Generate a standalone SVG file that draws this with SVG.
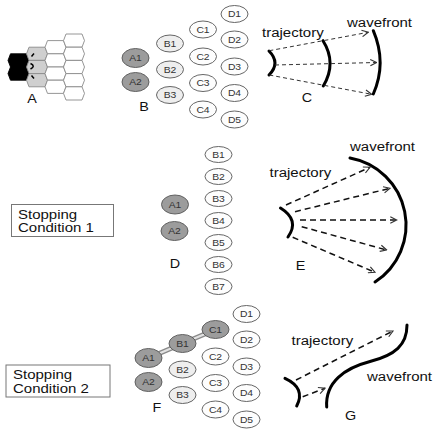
<svg xmlns="http://www.w3.org/2000/svg" width="436" height="436" viewBox="0 0 436 436">
<defs>
<style>
text{font-family:"Liberation Sans",Arial,sans-serif;fill:#111}
.hex{stroke:#8a8a8a;stroke-width:0.9;fill:#fff}
.hg{fill:#cfcfcf}
.hb{fill:#000;stroke:#000}
.n ellipse{stroke:#555;stroke-width:0.9}
.ga{fill:#9c9c9c}
.gb{fill:#eeeeee}
.gw{fill:#fdfdfd}
.nl{font-size:9px;text-anchor:middle;fill:#333}
.big{font-size:12px}
.let{font-size:12.5px;text-anchor:middle}
.wave{fill:none;stroke:#000;stroke-width:3;stroke-linecap:round}
.dash{fill:none;stroke:#333;stroke-width:1;stroke-dasharray:4 3}
.dash2{fill:none;stroke:#111;stroke-width:1.5;stroke-dasharray:6 4}
.box{fill:#fff;stroke:#777;stroke-width:1}
.tube{stroke:#8a8a8a;stroke-width:5}
.tubein{stroke:#e2e2e2;stroke-width:2.2}
</style>
<marker id="ah" viewBox="0 0 10 10" refX="9" refY="5" markerWidth="8" markerHeight="8" markerUnits="userSpaceOnUse" orient="auto"><path d="M1,1 L9,5 L1,9" fill="none" stroke="#333" stroke-width="1.4"/></marker>
</defs>
<rect width="436" height="436" fill="#fff"/>

<!-- Panel A: hex grid -->
<g id="panelA">
<polygon class="hex hb" points="8,60.4 10.5,53.8 26.5,53.8 29,60.4 26.5,67 10.5,67"/>
<polygon class="hex hb" points="8,73.6 10.5,67 26.5,67 29,73.6 26.5,80.2 10.5,80.2"/>
<polygon class="hex hg" points="26.5,53.8 29,47.2 45,47.2 47.5,53.8 45,60.4 29,60.4"/>
<polygon class="hex hg" points="26.5,67 29,60.4 45,60.4 47.5,67 45,73.6 29,73.6"/>
<polygon class="hex hg" points="26.5,80.2 29,73.6 45,73.6 47.5,80.2 45,86.8 29,86.8"/>
<polygon class="hex" points="45,47.2 47.5,40.6 63.5,40.6 66,47.2 63.5,53.8 47.5,53.8"/>
<polygon class="hex" points="45,60.4 47.5,53.8 63.5,53.8 66,60.4 63.5,67 47.5,67"/>
<polygon class="hex" points="45,73.6 47.5,67 63.5,67 66,73.6 63.5,80.2 47.5,80.2"/>
<polygon class="hex" points="45,86.8 47.5,80.2 63.5,80.2 66,86.8 63.5,93.4 47.5,93.4"/>
<polygon class="hex" points="63.5,40.6 66,34 82,34 84.5,40.6 82,47.2 66,47.2"/>
<polygon class="hex" points="63.5,53.8 66,47.2 82,47.2 84.5,53.8 82,60.4 66,60.4"/>
<polygon class="hex" points="63.5,67 66,60.4 82,60.4 84.5,67 82,73.6 66,73.6"/>
<polygon class="hex" points="63.5,80.2 66,73.6 82,73.6 84.5,80.2 82,86.8 66,86.8"/>
<polygon class="hex" points="63.5,93.4 66,86.8 82,86.8 84.5,93.4 82,100 66,100"/>
<path d="M31.5,56.5 L34,53.5 M30.5,63.5 Q36,66 30.5,69 M31.5,75.5 L34,78.5" fill="none" stroke="#000" stroke-width="1.5"/>
<text class="let" transform="translate(32,103) scale(1.15,1)">A</text>
</g>

<!-- Panel B -->
<g id="B-A1" class="n"><ellipse class="ga" cx="135.5" cy="58" rx="13.5" ry="9.5"/><text class="nl" transform="translate(135.5,61.2) scale(1.15,1)">A1</text></g>
<g id="B-A2" class="n"><ellipse class="ga" cx="135.5" cy="82" rx="13.5" ry="9.5"/><text class="nl" transform="translate(135.5,85.2) scale(1.15,1)">A2</text></g>
<g id="B-B1" class="n"><ellipse class="gb" cx="170" cy="43.5" rx="13.5" ry="8.5"/><text class="nl" transform="translate(170,46.7) scale(1.15,1)">B1</text></g>
<g id="B-B2" class="n"><ellipse class="gb" cx="170" cy="69.5" rx="13.5" ry="8.5"/><text class="nl" transform="translate(170,72.7) scale(1.15,1)">B2</text></g>
<g id="B-B3" class="n"><ellipse class="gb" cx="170" cy="95" rx="13.5" ry="8.5"/><text class="nl" transform="translate(170,98.2) scale(1.15,1)">B3</text></g>
<g id="B-C1" class="n"><ellipse class="gw" cx="203" cy="29.5" rx="13.5" ry="8.5"/><text class="nl" transform="translate(203,32.7) scale(1.15,1)">C1</text></g>
<g id="B-C2" class="n"><ellipse class="gw" cx="203" cy="56.5" rx="13.5" ry="8.5"/><text class="nl" transform="translate(203,59.7) scale(1.15,1)">C2</text></g>
<g id="B-C3" class="n"><ellipse class="gw" cx="203" cy="83" rx="13.5" ry="8.5"/><text class="nl" transform="translate(203,86.2) scale(1.15,1)">C3</text></g>
<g id="B-C4" class="n"><ellipse class="gw" cx="203" cy="109.5" rx="13.5" ry="8.5"/><text class="nl" transform="translate(203,112.7) scale(1.15,1)">C4</text></g>
<g id="B-D1" class="n"><ellipse class="gw" cx="234.5" cy="14" rx="13.5" ry="8.5"/><text class="nl" transform="translate(234.5,17.2) scale(1.15,1)">D1</text></g>
<g id="B-D2" class="n"><ellipse class="gw" cx="234.5" cy="39.5" rx="13.5" ry="8.5"/><text class="nl" transform="translate(234.5,42.7) scale(1.15,1)">D2</text></g>
<g id="B-D3" class="n"><ellipse class="gw" cx="234.5" cy="66.5" rx="13.5" ry="8.5"/><text class="nl" transform="translate(234.5,69.7) scale(1.15,1)">D3</text></g>
<g id="B-D4" class="n"><ellipse class="gw" cx="234.5" cy="93" rx="13.5" ry="8.5"/><text class="nl" transform="translate(234.5,96.2) scale(1.15,1)">D4</text></g>
<g id="B-D5" class="n"><ellipse class="gw" cx="234.5" cy="119.5" rx="13.5" ry="8.5"/><text class="nl" transform="translate(234.5,122.7) scale(1.15,1)">D5</text></g>
<text class="let" transform="translate(144,110.5) scale(1.15,1)">B</text>

<!-- Panel C -->
<g id="panelC">
<path class="wave" d="M269,51 Q281,63 269,75"/>
<path class="wave" d="M323,40.7 Q337,63 323.3,86"/>
<path class="wave" d="M373.3,30.7 Q387,63 373.3,94" stroke-width="3.4"/>
<text class="big" transform="translate(262,37) scale(1.25,1)">trajectory</text>
<text class="big" transform="translate(347,26.5) scale(1.25,1)">wavefront</text>
<text class="let" transform="translate(307,101.5) scale(1.15,1)">C</text>
</g>

<!-- Panel D -->
<g id="box1"><rect class="box" x="11.5" y="204.5" width="102" height="32"/>
<text class="big" transform="translate(18,218.5) scale(1.25,1)">Stopping</text>
<text class="big" transform="translate(18,232) scale(1.25,1)">Condition 1</text></g>
<g id="D-A1" class="n"><ellipse class="ga" cx="175" cy="204.5" rx="13.5" ry="9.5"/><text class="nl" transform="translate(175,207.7) scale(1.15,1)">A1</text></g>
<g id="D-A2" class="n"><ellipse class="ga" cx="174.5" cy="231" rx="13.5" ry="9.5"/><text class="nl" transform="translate(174.5,234.2) scale(1.15,1)">A2</text></g>
<g id="D-B1" class="n"><ellipse class="gw" cx="218.5" cy="154.5" rx="13.5" ry="8"/><text class="nl" transform="translate(218.5,157.7) scale(1.15,1)">B1</text></g>
<g id="D-B2" class="n"><ellipse class="gw" cx="218.5" cy="176.5" rx="13.5" ry="8"/><text class="nl" transform="translate(218.5,179.7) scale(1.15,1)">B2</text></g>
<g id="D-B3" class="n"><ellipse class="gw" cx="218.5" cy="198.5" rx="13.5" ry="8"/><text class="nl" transform="translate(218.5,201.7) scale(1.15,1)">B3</text></g>
<g id="D-B4" class="n"><ellipse class="gw" cx="218.5" cy="220.5" rx="13.5" ry="8"/><text class="nl" transform="translate(218.5,223.7) scale(1.15,1)">B4</text></g>
<g id="D-B5" class="n"><ellipse class="gw" cx="218.5" cy="242.5" rx="13.5" ry="8"/><text class="nl" transform="translate(218.5,245.7) scale(1.15,1)">B5</text></g>
<g id="D-B6" class="n"><ellipse class="gw" cx="218.5" cy="264.5" rx="13.5" ry="8"/><text class="nl" transform="translate(218.5,267.7) scale(1.15,1)">B6</text></g>
<g id="D-B7" class="n"><ellipse class="gw" cx="218.5" cy="286.5" rx="13.5" ry="8"/><text class="nl" transform="translate(218.5,289.7) scale(1.15,1)">B7</text></g>
<text class="let" transform="translate(175,268) scale(1.15,1)">D</text>

<!-- Panel E -->
<g id="panelE">
<path class="wave" d="M280.5,208 Q300,220 288,237"/>
<path class="wave" d="M350,158 A68,68 0 0 1 375,282"/>
<text class="big" transform="translate(269.5,177) scale(1.25,1)">trajectory</text>
<text class="big" transform="translate(350,151) scale(1.25,1)">wavefront</text>
<text class="let" transform="translate(300.5,270) scale(1.15,1)">E</text>
</g>

<!-- Panel F -->
<g id="box2"><rect class="box" x="6" y="365" width="104" height="32"/>
<text class="big" transform="translate(13,379) scale(1.25,1)">Stopping</text>
<text class="big" transform="translate(13,392.5) scale(1.25,1)">Condition 2</text></g>

<!-- Connectors -->
<g id="connectors">
<line class="dash" x1="269.3" y1="50.7" x2="368.3" y2="32.3" marker-end="url(#ah)"/>
<line class="dash" x1="275" y1="65" x2="376.7" y2="62.5" marker-end="url(#ah)"/>
<line class="dash" x1="269.3" y1="75" x2="371.7" y2="94.3" marker-end="url(#ah)"/>
<line class="dash2" x1="286" y1="205" x2="370" y2="167.3" marker-end="url(#ah)"/>
<line class="dash2" x1="295" y1="211.7" x2="390" y2="188.3" marker-end="url(#ah)"/>
<line class="dash2" x1="300" y1="220" x2="396.7" y2="220" marker-end="url(#ah)"/>
<line class="dash2" x1="301.7" y1="226.7" x2="386.7" y2="250" marker-end="url(#ah)"/>
<line class="dash2" x1="292.7" y1="237.3" x2="375" y2="272.3" marker-end="url(#ah)"/>
<line class="dash2" x1="296" y1="380" x2="393" y2="331" marker-end="url(#ah)"/>
<line class="dash2" x1="302.7" y1="396.7" x2="325" y2="388.3" marker-end="url(#ah)"/>
<line class="tube" x1="148.5" y1="358" x2="182.5" y2="343.5"/>
<line class="tubein" x1="148.5" y1="358" x2="182.5" y2="343.5"/>
<line class="tube" x1="182.5" y1="343.5" x2="215.5" y2="329.5"/>
<line class="tubein" x1="182.5" y1="343.5" x2="215.5" y2="329.5"/>
</g>

<g id="F-A1" class="n"><ellipse class="ga" cx="148.5" cy="358" rx="13.5" ry="9.5"/><text class="nl" transform="translate(148.5,361.2) scale(1.15,1)">A1</text></g>
<g id="F-A2" class="n"><ellipse class="ga" cx="148.5" cy="382" rx="13.5" ry="9.5"/><text class="nl" transform="translate(148.5,385.2) scale(1.15,1)">A2</text></g>
<g id="F-B1" class="n"><ellipse class="ga" cx="182.5" cy="343.5" rx="13.5" ry="9"/><text class="nl" transform="translate(182.5,346.7) scale(1.15,1)">B1</text></g>
<g id="F-B2" class="n"><ellipse class="gb" cx="182.5" cy="369.5" rx="13.5" ry="8.5"/><text class="nl" transform="translate(182.5,372.7) scale(1.15,1)">B2</text></g>
<g id="F-B3" class="n"><ellipse class="gb" cx="182.5" cy="395" rx="13.5" ry="8.5"/><text class="nl" transform="translate(182.5,398.2) scale(1.15,1)">B3</text></g>
<g id="F-C1" class="n"><ellipse class="ga" cx="215.5" cy="329.5" rx="13.5" ry="9"/><text class="nl" transform="translate(215.5,332.7) scale(1.15,1)">C1</text></g>
<g id="F-C2" class="n"><ellipse class="gw" cx="215.5" cy="356.5" rx="13.5" ry="8.5"/><text class="nl" transform="translate(215.5,359.7) scale(1.15,1)">C2</text></g>
<g id="F-C3" class="n"><ellipse class="gw" cx="215.5" cy="383" rx="13.5" ry="8.5"/><text class="nl" transform="translate(215.5,386.2) scale(1.15,1)">C3</text></g>
<g id="F-C4" class="n"><ellipse class="gw" cx="215.5" cy="409.5" rx="13.5" ry="8.5"/><text class="nl" transform="translate(215.5,412.7) scale(1.15,1)">C4</text></g>
<g id="F-D1" class="n"><ellipse class="gw" cx="246.5" cy="314" rx="13.5" ry="8.5"/><text class="nl" transform="translate(246.5,317.2) scale(1.15,1)">D1</text></g>
<g id="F-D2" class="n"><ellipse class="gw" cx="246.5" cy="339.5" rx="13.5" ry="8.5"/><text class="nl" transform="translate(246.5,342.7) scale(1.15,1)">D2</text></g>
<g id="F-D3" class="n"><ellipse class="gw" cx="246.5" cy="366.5" rx="13.5" ry="8.5"/><text class="nl" transform="translate(246.5,369.7) scale(1.15,1)">D3</text></g>
<g id="F-D4" class="n"><ellipse class="gw" cx="246.5" cy="393" rx="13.5" ry="8.5"/><text class="nl" transform="translate(246.5,396.2) scale(1.15,1)">D4</text></g>
<g id="F-D5" class="n"><ellipse class="gw" cx="246.5" cy="419.5" rx="13.5" ry="8.5"/><text class="nl" transform="translate(246.5,422.7) scale(1.15,1)">D5</text></g>
<text class="let" transform="translate(157,411.5) scale(1.15,1)">F</text>

<!-- Panel G -->
<g id="panelG">
<path class="wave" d="M285,378.3 Q306,388 296.7,406"/>
<path class="wave" d="M326.7,407 C325,382 345,368 370,361.5 C395,355 407,345 407,325"/>
<text class="big" transform="translate(291.5,345) scale(1.25,1)">trajectory</text>
<text class="big" transform="translate(367,380.5) scale(1.25,1)">wavefront</text>
<text class="let" transform="translate(350.5,420) scale(1.15,1)">G</text>
</g>
</svg>
